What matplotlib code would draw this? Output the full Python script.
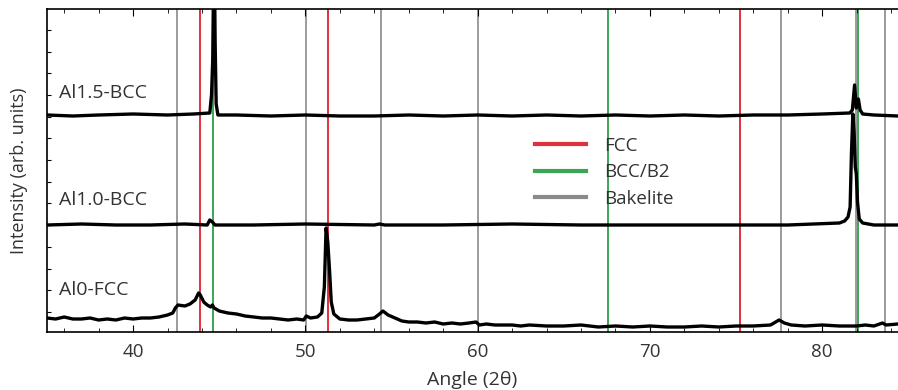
import matplotlib
matplotlib.use("Agg")
import matplotlib.pyplot as plt
from matplotlib.lines import Line2D
from matplotlib.ticker import MultipleLocator
import numpy as np

plt.rcParams['font.family'] = ['Open Sans', 'DejaVu Sans']

# XRD traces (angle 2theta, offset intensity)
al0_angle = [35.0, 35.5, 36.0, 36.5, 37.0, 37.5, 38.0, 38.5, 39.0, 39.5, 40.0, 40.5, 41.0, 41.5,
             42.0, 42.3, 42.45, 42.6, 43.0, 43.3, 43.6, 43.8, 43.9, 44.1, 44.3, 44.5, 44.6, 44.7,
             45.0, 45.5, 46.0, 46.5, 47.0, 47.5, 48.0, 48.5, 49.0, 49.5, 49.9, 50.05, 50.3, 50.7,
             50.95, 51.1, 51.2, 51.3, 51.4, 51.5, 51.65, 52.0, 52.5, 53.0, 53.5, 54.0, 54.3, 54.5,
             54.8, 55.2, 55.6, 56.0, 56.5, 57.0, 57.5, 58.0, 58.5, 59.0, 59.5, 59.9, 60.1, 60.5,
             61.0, 62.0, 62.5, 63.0, 64.0, 65.0, 66.0, 67.0, 68.0, 69.0, 70.0, 71.0, 72.0, 73.0,
             74.0, 75.0, 76.0, 77.0, 77.3, 77.5, 77.8, 78.2, 79.0, 80.0, 81.0, 82.0, 82.5, 83.0,
             83.5, 83.7, 84.4]
al0_counts = [14, 13, 15, 13, 13, 14, 12, 13, 12, 14, 13, 14, 14, 15,
              17, 19, 24, 27, 26, 28, 32, 39, 37, 30, 27, 25, 27, 24,
              21, 19, 18, 16, 15, 14, 14, 13, 12, 13, 12, 16, 14, 15,
              19, 45, 104, 90, 62, 30, 18, 13, 12, 12, 13, 14, 18, 21,
              17, 14, 11, 10, 10, 9, 10, 8, 9, 8, 9, 10, 7, 8,
              7, 7, 6, 7, 6, 6, 7, 5, 6, 5, 6, 5, 5, 6,
              5, 6, 6, 7, 10, 12, 9, 7, 6, 7, 6, 6, 7, 6,
              9, 7, 8]

al10_angle = [35.0, 37.0, 39.0, 41.0, 43.0, 44.3, 44.45, 44.6, 44.75, 47.0, 50.0, 54.0, 54.3,
              54.6, 58.0, 62.0, 66.0, 70.0, 74.0, 78.0, 81.0, 81.3, 81.5, 81.62, 81.7, 81.78,
              81.85, 81.92, 81.98, 82.05, 82.15, 82.35, 83.0, 84.4]
al10_counts = [107, 108, 107, 107, 108, 107, 112, 110, 107, 107, 108, 107, 108,
               107, 107, 108, 107, 107, 107, 107, 109, 111, 115, 125, 180, 218,
               200, 165, 158, 130, 113, 109, 107, 107]

al15_angle = [35.0, 36.5, 38.0, 40.0, 42.0, 43.5, 44.45, 44.55, 44.62, 44.7, 44.76, 44.82, 44.92,
              46.0, 48.0, 50.0, 52.0, 54.0, 56.0, 58.0, 60.0, 62.0, 64.0, 66.0, 68.0, 70.0,
              72.0, 74.0, 76.0, 78.0, 80.0, 81.6, 81.75, 81.88, 81.98, 82.1, 82.2, 82.35, 83.0,
              84.4]
al15_counts = [217, 216, 217, 218, 217, 218, 219, 237, 272, 400, 290, 228, 217,
               217, 216, 217, 216, 216, 217, 216, 217, 216, 217, 216, 217, 216,
               217, 216, 217, 217, 218, 219, 222, 247, 224, 233, 222, 218, 217,
               216]

# reference peak positions
fcc_pos = [43.88, 51.3, 75.23]
bcc_pos = [44.65, 67.57, 82.05]
bakelite_pos = [42.55, 50.03, 54.4, 60.0, 77.6, 81.95, 83.65]

sample_labels = ["Al1.5-BCC", "Al1.0-BCC", "Al0-FCC"]
label_y = [239, 132, 42]

red = '#e0313e'
green = '#3aa655'
gray = '#8a8a8a'
txt = '#333333'

fig = plt.figure(figsize=(8.98, 3.90), dpi=100)
ax = fig.add_axes([47 / 898, 58 / 390, 1 - 47 / 898, 323 / 390])

for p in bakelite_pos:
    ax.axvline(p, color=gray, lw=1.2, zorder=1)
for p in fcc_pos:
    ax.axvline(p, color=red, lw=1.4, zorder=1)
for p in bcc_pos:
    ax.axvline(p, color=green, lw=1.4, zorder=1)

for a, c in [(al0_angle, al0_counts), (al10_angle, al10_counts), (al15_angle, al15_counts)]:
    ax.plot(a, c, color='black', lw=2.4, zorder=3)

for s, y in zip(sample_labels, label_y):
    ax.text(35.7, y, s, fontsize=14, color=txt, va='center', ha='left')

ax.set_xlim(35, 84.4)
ax.set_ylim(0, 323)
ax.xaxis.set_major_locator(MultipleLocator(10))
ax.xaxis.set_minor_locator(MultipleLocator(2))
ax.set_yticks(np.arange(20, 323, 21.7))
ax.set_yticklabels([])
ax.tick_params(axis='x', which='both', direction='in', top=True, labelsize=13.5,
               labelcolor=txt, pad=8)
ax.tick_params(axis='x', which='major', length=5)
ax.tick_params(axis='x', which='minor', length=3)
ax.tick_params(axis='y', direction='in', length=3)
ax.spines['right'].set_visible(False)
for sp in ['left', 'top', 'bottom']:
    ax.spines[sp].set_linewidth(1.2)

ax.set_xlabel("Angle (2θ)", fontsize=14, color=txt, labelpad=7)
ax.set_ylabel("Intensity (arb. units)", fontsize=13, color=txt, labelpad=10)

handles = [Line2D([], [], color=red, lw=3), Line2D([], [], color=green, lw=3),
           Line2D([], [], color=gray, lw=3)]
leg = ax.legend(handles, ["FCC", "BCC/B2", "Bakelite"], loc='upper left',
                bbox_to_anchor=(518 / 898, 1 - 120 / 390), bbox_transform=fig.transFigure,
                frameon=False, fontsize=13.5, handlelength=2.7, handletextpad=1.0,
                labelspacing=0.45, labelcolor=txt)

fig.savefig("out.png", dpi=100)
